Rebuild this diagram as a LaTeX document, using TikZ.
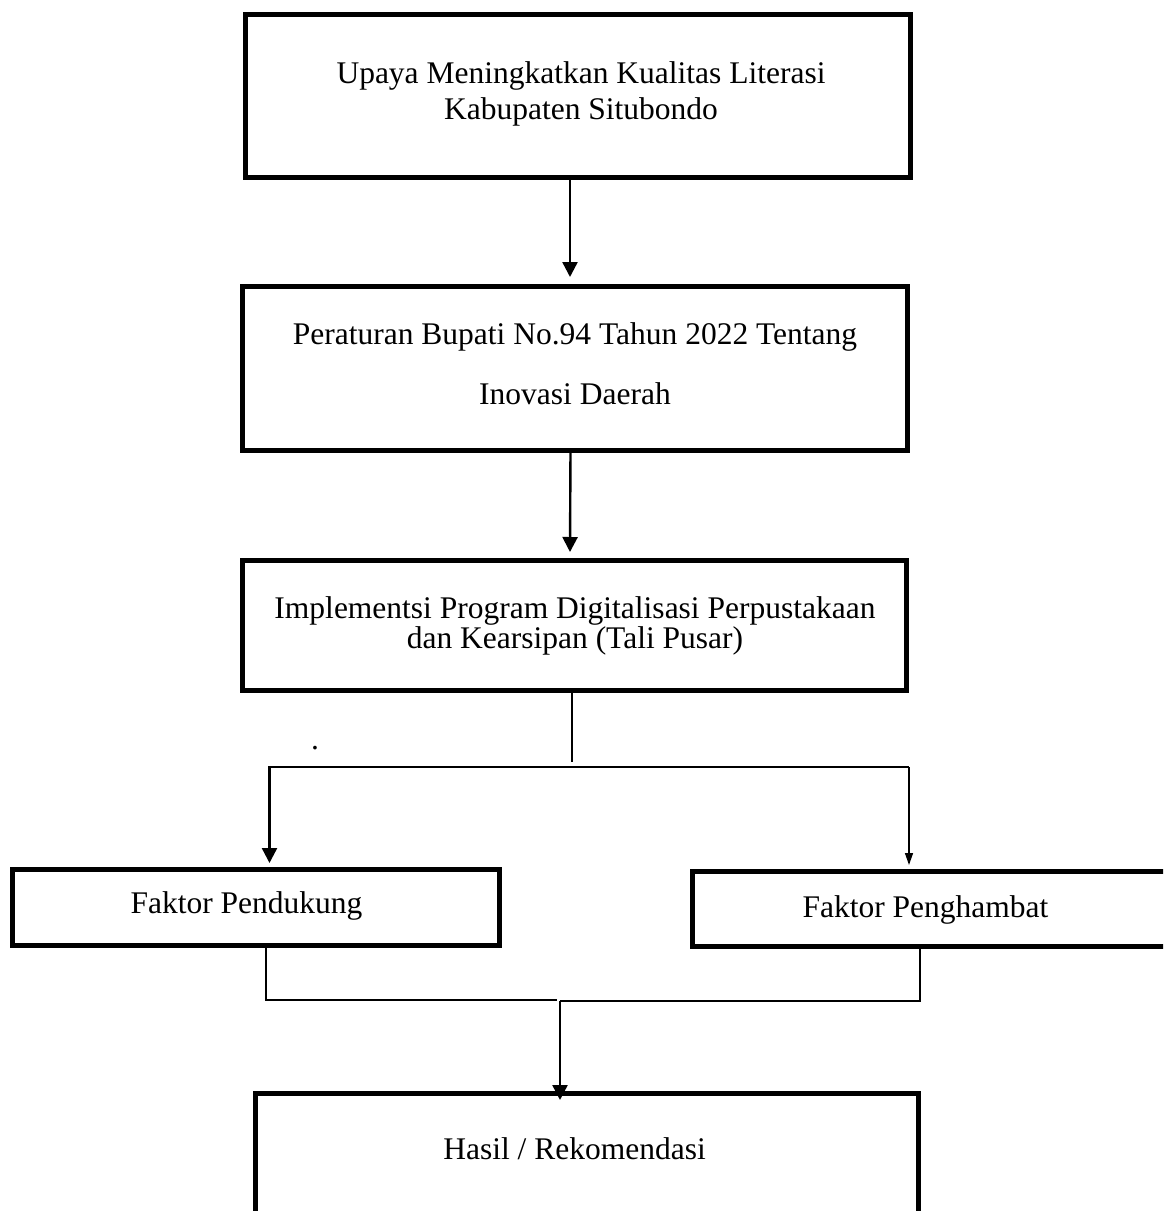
\documentclass[tikz,border=0pt]{standalone}
\usepackage{fontspec}
\setmainfont{Liberation Serif}
\usetikzlibrary{arrows.meta}
\tikzset{
  box/.style={draw, line width=5pt, inner sep=0pt, outer sep=0pt},
  txt/.style={inner sep=0pt, outer sep=0pt, align=center, font=\fontsize{31.5}{36}\selectfont},
  linethin/.style={line width=1.4pt},
  linemid/.style={line width=1.6pt},
  linethick/.style={line width=2.4pt},
  bigtip/.style={-{Triangle[width=15pt,length=15pt]}},
  smalltip/.style={-{Triangle[width=8pt,length=12pt]}}
}
\begin{document}
\begin{tikzpicture}[x=1pt,y=-1pt]
\useasboundingbox (0,0) rectangle (1163,1211);
\fill[white] (0,0) rectangle (1163,1211);
\clip (0,0) rectangle (1163,1211);

% boxes
\node[box, minimum width=665pt, minimum height=163pt] (b1) at (578,96) {};
\node[box, minimum width=665pt, minimum height=164pt] (b2) at (575,368.5) {};
\node[box, minimum width=664pt, minimum height=130pt] (b3) at (574.5,625.5) {};
\node[box, minimum width=487pt, minimum height=76pt] (b4) at (256,907.5) {};
\node[box, minimum width=515pt, minimum height=75pt] (b5) at (950,909) {};
\node[box, minimum width=663pt, minimum height=184pt] (b6) at (587,1185.5) {};

% texts (anchor=base is the baseline of the last line)
\node[txt, anchor=base, font=\fontsize{31.5}{36}\selectfont] (t1) at (581,119)
  {Upaya Meningkatkan Kualitas Literasi\\Kabupaten Situbondo};
\node[txt, anchor=base, font=\fontsize{31.5}{60}\selectfont] (t2) at (575,404)
  {Peraturan Bupati No.94 Tahun 2022 Tentang\\Inovasi Daerah};
\node[txt, anchor=base, font=\fontsize{31.5}{28}\selectfont] (t3) at (575,648)
  {Implementsi Program Digitalisasi Perpustakaan\\dan Kearsipan (Tali Pusar)};
\node[txt, anchor=base] (t4) at (246.5,913) {Faktor Pendukung};
\node[txt, anchor=base] (t5) at (925.5,917) {Faktor Penghambat};
\node[txt, anchor=base] (t6) at (574.5,1159) {Hasil / Rekomendasi};
\node[txt, anchor=base] (dot) at (315,749) {.};

% junction points
\coordinate (j1) at (572,762);
\coordinate (hl) at (269.5,767);
\coordinate (hr) at (909,767);
\coordinate (jl) at (557,1000);
\coordinate (jr) at (560,1001);

% connectors
\draw[linethick, bigtip] ([xshift=-8pt]b1.south) -- ([xshift=-5pt,yshift=9.5pt]b2.north);
\draw[linethick, bigtip] ([xshift=-4.5pt]b2.south) -- ([xshift=-4.5pt,yshift=8.5pt]b3.north);
\draw[linethin] ([xshift=-2.5pt]b3.south) -- (j1);
\draw[linethick, bigtip] (hr) -- (hl) -- ([xshift=13.5pt,yshift=6.5pt]b4.north);
\draw[linethin, smalltip] (hr) -- ([xshift=-41pt,yshift=6.5pt]b5.north);
\draw[linemid] ([xshift=10pt]b4.south) |- (jl);
\draw[linemid] ([xshift=-30pt]b5.south) |- (jr);
\draw[linethick, bigtip] (jr) -- ([xshift=-27pt,yshift=-6.5pt]b6.north);
\end{tikzpicture}
\end{document}
